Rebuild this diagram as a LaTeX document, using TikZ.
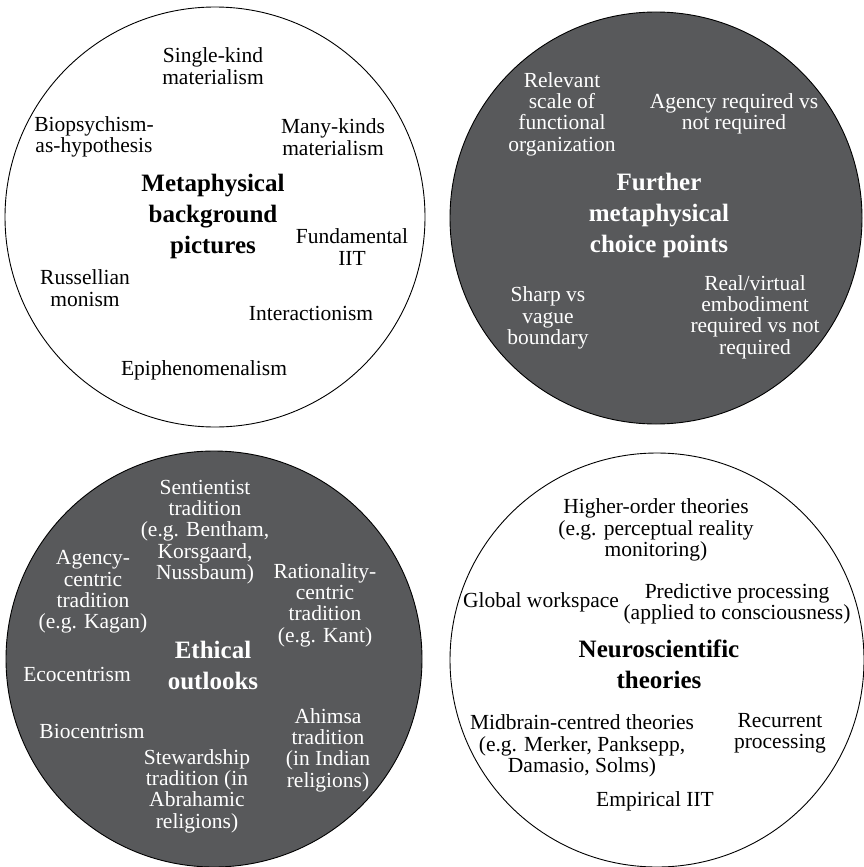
\documentclass[tikz,border=0pt]{standalone}
\usepackage{fontspec}
\setmainfont{Liberation Serif}
\definecolor{darkfill}{RGB}{88,89,91}
\begin{document}
\begin{tikzpicture}[x=1pt,y=-1pt,
  lightcirc/.style={draw=black,line width=0.9pt,fill=white},
  darkcirc/.style={draw=black,line width=0.9pt,fill=darkfill},
  item/.style={align=center,inner sep=0pt,font=\fontsize{21.5}{21.3}\selectfont},
  ttl/.style={align=center,inner sep=0pt,font=\fontsize{25}{31}\selectfont\bfseries},
  onDark/.style={text=white}]
\useasboundingbox (0,0) rectangle (864,867);
% circles
\draw[lightcirc] (215,217) circle (210);
\draw[darkcirc] (656,218) circle (206);
\draw[darkcirc] (214,659) circle (208);
\draw[lightcirc] (657,660) circle (207);

% circle 1
\node[ttl] (t1) at (213,216) {Metaphysical\\background\\pictures};
\node[item] (a1) at (213,66) {Single-kind\\materialism};
\node[item] (a2) at (94,137) {Biopsychism-\\as-hypothesis};
\node[item] (a3) at (333,137) {Many-kinds\\materialism};
\node[item] (a4) at (352,247) {Fundamental\\IIT};
\node[item] (a5) at (85,288) {Russellian\\monism};
\node[item] (a6) at (311,313) {Interactionism};
\node[item] (a7) at (204,370) {Epiphenomenalism};

% circle 2
\node[ttl,onDark] (t2) at (659,215) {Further\\metaphysical\\choice points};
\node[item,onDark] (b1) at (562,114) {Relevant\\scale of\\functional\\organization};
\node[item,onDark] (b2) at (734,114) {Agency required vs\\not required};
\node[item,onDark] (b3) at (548,318) {Sharp vs\\vague\\boundary};
\node[item,onDark] (b4) at (755,317) {Real/virtual\\embodiment\\required vs not\\required};

% circle 3
\node[ttl,onDark] (t3) at (213,665) {Ethical\\outlooks};
\node[item,onDark] (c1) at (205,532) {Sentientist\\tradition\\(e.g. Bentham,\\Korsgaard,\\Nussbaum)};
\node[item,onDark] (c2) at (93,592) {Agency-\\centric\\tradition\\(e.g. Kagan)};
\node[item,onDark] (c3) at (325,605) {Rationality-\\centric\\tradition\\(e.g. Kant)};
\node[item,onDark] (c4) at (77,674) {Ecocentrism};
\node[item,onDark] (c5) at (92,731) {Biocentrism};
\node[item,onDark] (c6) at (197,791) {Stewardship\\tradition (in\\Abrahamic\\religions)};
\node[item,onDark] (c7) at (328,750) {Ahimsa\\tradition\\(in Indian\\religions)};

% circle 4
\node[ttl] (t4) at (659,664) {Neuroscientific\\theories};
\node[item] (d1) at (656,530) {Higher-order theories\\(e.g. perceptual reality\\monitoring)};
\node[item] (d2) at (541,602) {Global workspace};
\node[item] (d3) at (737,604) {Predictive processing\\(applied to consciousness)};
\node[item] (d4) at (582,746) {Midbrain-centred theories\\(e.g. Merker, Panksepp,\\Damasio, Solms)};
\node[item] (d5) at (780,733) {Recurrent\\processing};
\node[item] (d6) at (655,801) {Empirical IIT};
\end{tikzpicture}
\end{document}
